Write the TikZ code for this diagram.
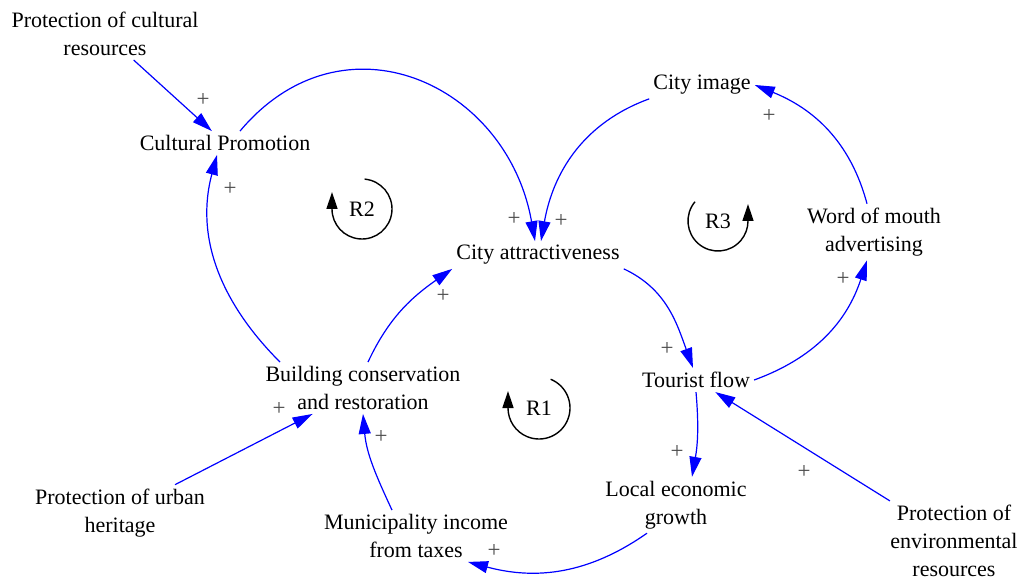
\documentclass[tikz,border=0pt]{standalone}
\usepackage{fontspec}
\setmainfont{Liberation Serif}
\usetikzlibrary{arrows.meta}

\begin{document}
\begin{tikzpicture}[x=1pt,y=1pt]
    % Setup the styles for variables, links and loops
        \tikzset{var style/.style={align=center,
                                   inner sep=4pt,
                                   font=\fontsize{22}{28}\selectfont},
                 link style/.style={draw=blue,
                                    line width=1.2pt,
                                    -{Triangle[length=20pt,width=12pt]}},
                 sign style/.style={inner sep=0pt,
                                    text=black!70,
                                    font=\fontsize{23}{23}\selectfont},
                 rloop style/.style={draw=black,
                                     line width=1.4pt,
                                     -{Triangle[length=17pt,width=11pt]}}}
        \useasboundingbox (0,0) rectangle (1018,-580);
        % Draw the variables
        \node[var style] at (105,-34)  (pcr)  {Protection of cultural\\resources};
        \node[var style] at (225,-143) (cp)   {Cultural Promotion};
        \node[var style] at (538,-255) (ca)   {City attractiveness};
        \node[var style] at (702,-85)  (ci)   {City image};
        \node[var style] at (874,-232) (wom)  {Word of mouth\\advertising};
        \node[var style] at (696,-380) (tf)   {Tourist flow};
        \node[var style] at (363,-388) (bcr)  {Building conservation\\and restoration};
        \node[var style] at (120,-513) (puh)  {Protection of urban\\heritage};
        \node[var style] at (416,-536) (mit)  {Municipality income\\from taxes};
        \node[var style] at (676,-505) (leg)  {Local economic\\growth};
        \node[var style] at (954,-541) (per)  {Protection of\\environmental\\resources};
        % Loop labels
        \node[var style] at (362,-209) (r2) {R2};
        \node[var style] at (718,-221) (r3) {R3};
        \node[var style] at (539,-408) (r1) {R1};
        % Connect the variables with arrows
        \draw[link style] (pcr) -- (cp);
        \draw[link style] ([xshift=15]cp.north) to[out=50,in=100,looseness=1.3] ([xshift=-3]ca.north);
        \draw[link style] (ci.south west) to[out=200,in=80] ([xshift=3]ca.north);
        \draw[link style] ([xshift=-83]bcr.north) to[out=135,in=255] ([xshift=-8]cp.south);
        \draw[link style] ([xshift=5]bcr.north) to[out=65,in=215] (ca.south west);
        \draw[link style] (ca.south east) to[out=-25,in=110] ([xshift=-3]tf.north);
        \draw[link style] (tf.east) to[out=20,in=252] ([xshift=-7]wom.south);
        \draw[link style] ([xshift=-7]wom.north) to[out=105,in=-22] (ci.east);
        \draw[link style] (tf.south) to[out=-85,in=80] ([xshift=16]leg.north);
        \draw[link style] ([xshift=-29]leg.south) to[out=215,in=-15] ([xshift=52]mit.south);
        \draw[link style] ([xshift=-24]mit.north) to[out=115,in=-85] (bcr.south);
        \draw[link style] (puh) -- (bcr);
        \draw[link style] (per) -- (tf);
        % Polarity signs
        \foreach \x/\y [count=\i] in {203/100, 514/219, 561/221, 230/189, 443/296,
                                      667/349, 843/279, 769/116, 677/452, 494/551,
                                      381/437, 279/409, 804/472}
            \node[sign style] (s\i) at (\x,-\y) {+};
        % Loop arrows
        \draw[rloop style] ([shift={(85:30)}]r2.center) arc[start angle=85,end angle=-180,radius=30] -- ++(0,17);
        \draw[rloop style] ([shift={(140:30)}]r3.center) arc[start angle=140,end angle=360,radius=30] -- ++(0,17);
        \draw[rloop style] ([shift={(68:31)}]r1.center) arc[start angle=68,end angle=-180,radius=31] -- ++(0,17);
\end{tikzpicture}
\end{document}
